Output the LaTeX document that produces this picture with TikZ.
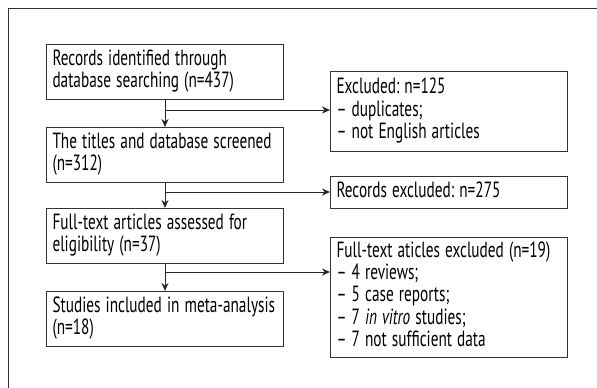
\documentclass[tikz,border=0pt]{standalone}
\usepackage{fontspec}
\setmainfont{PT Sans}
\usetikzlibrary{arrows.meta, positioning}

% condensed text lines
\newcommand{\narrow}[1]{\scalebox{0.695}[1]{\begin{tabular}{@{}l@{}}#1\end{tabular}}}

\tikzset{
  box/.style={draw=black!80, line width=1pt, anchor=north west, text width=225pt,
    inner xsep=6pt, inner ysep=3pt, align=left, font=\frenchspacing\fontsize{22}{22}\selectfont},
  arr/.style={draw=black!85, line width=1pt, -{Stealth[length=8pt,width=7pt]}}
}

\begin{document}
\begin{tikzpicture}[x=1pt, y=-1pt]
\useasboundingbox (0,0) rectangle (597,388);

% frame
\draw[black!80, line width=1pt] (8,388) -- (8,8) -- (597,8);

% main column
\node[box, minimum height=55pt] (ident) at (46,44) {\narrow{Records identified through\\ database searching (n=437)}};
\node[box, minimum height=55pt] (screen) at (46,127) {\narrow{The titles and database screened\\ (n=312)}};
\node[box, minimum height=55pt] (full) at (46,208) {\narrow{Full-text articles assessed for\\ eligibility (n=37)}};
\node[box, minimum height=55pt] (incl) at (46,291) {\narrow{Studies included in meta-analysis\\ (n=18)}};

% exclusions
\node[box, minimum height=80pt] (excl1) at (330,71) {\narrow{Excluded: n=125\\ \textendash{} duplicates;\\ \textendash{} not English articles}};
\node[box, minimum height=32pt] (excl2) at (330,176) {\narrow{Records excluded: n=275}};
\node[box, minimum height=120pt] (excl3) at (330,237) {\narrow{Full-text aticles excluded (n=19)\\ \textendash{} 4 reviews;\\ \textendash{} 5 case reports;\\ \textendash{} 7 \textit{in vitro} studies;\\ \textendash{} 7 not sufficient data}};

% branch points
\coordinate (j1) at (ident.south |- 0,110);
\coordinate (j2) at (screen.south |- 0,192);
\coordinate (j3) at (full.south |- 0,272);

\draw[arr] (ident) -- (screen);
\draw[arr] (screen) -- (full);
\draw[arr] (full) -- (incl);

\draw[arr] (j1) -- (j1 -| excl1.west);
\draw[arr] (j2) -- (j2 -| excl2.west);
\draw[arr] (j3) -- (j3 -| excl3.west);

\end{tikzpicture}
\end{document}
